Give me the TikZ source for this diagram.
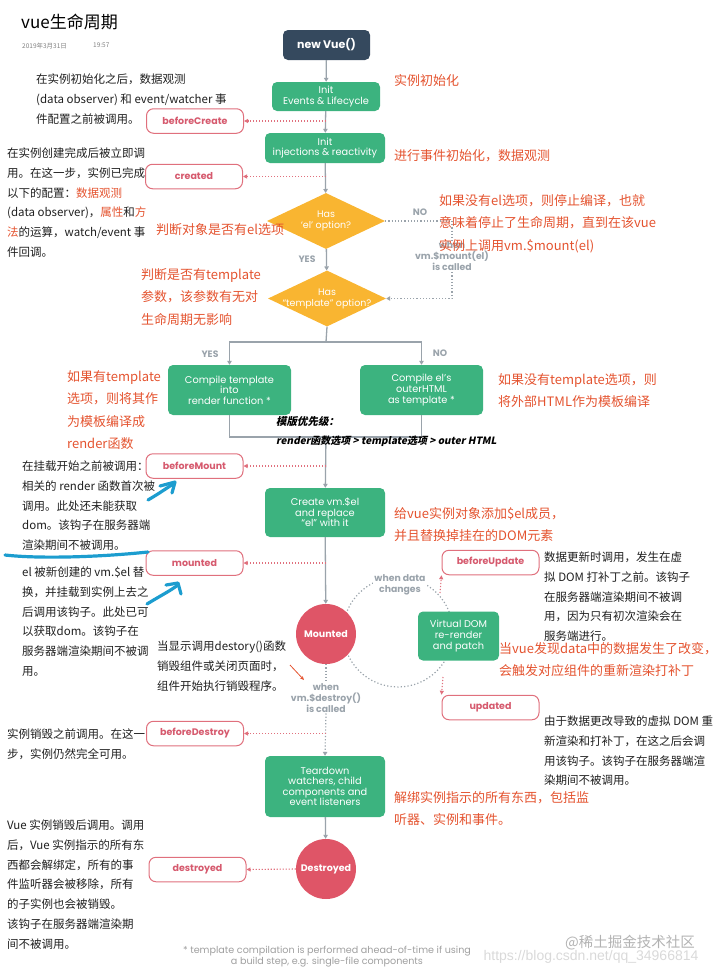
\documentclass[tikz,border=0pt]{standalone}
\usepackage{fontspec}
\setmainfont{Noto Sans CJK SC}
\newfontfamily\pop{Poppins}
\newfontfamily\cjkbi{Noto Sans CJK SC}[FakeSlant=0.2]
\newfontfamily\urlf{Liberation Sans}
\usetikzlibrary{shapes.geometric,arrows.meta}
\definecolor{vgreen}{HTML}{3CB37F}
\definecolor{vnavy}{HTML}{35495E}
\definecolor{vorange}{HTML}{F9B531}
\definecolor{vred}{HTML}{DF5567}
\definecolor{hookred}{HTML}{E0707D}
\definecolor{hooktext}{HTML}{D65A6E}
\definecolor{vgray}{HTML}{9AA3AB}
\definecolor{annred}{HTML}{E4532F}
\definecolor{mblue}{HTML}{1C9DCF}
\begin{document}
\begin{tikzpicture}[x=1pt,y=-1pt,
  box/.style={rectangle, rounded corners=5pt, fill=vgreen, text=white, font=\pop\fontsize{9.8}{10.6}\selectfont, align=center, inner sep=0pt},
  hook/.style={rectangle, rounded corners=7pt, draw=hookred, line width=1pt, fill=white, text=hooktext, font=\pop\bfseries\fontsize{9.5}{10}\selectfont, minimum width=97pt, minimum height=24.5pt, inner sep=0pt},
  diam/.style={diamond, fill=vorange, inner sep=0pt, minimum width=118pt, minimum height=56pt},
  difont/.style={text=white, font=\pop\fontsize{9.5}{11}\selectfont, align=center, inner sep=0pt},
  circ/.style={circle, fill=vred, text=white, font=\pop\bfseries\fontsize{9.5}{10}\selectfont, minimum size=60pt, inner sep=0pt},
  flow/.style={draw=vgray, line width=1.3pt, -{Triangle[length=4pt,width=4.5pt]}},
  flowline/.style={draw=vgray, line width=1.3pt},
  graydot/.style={draw=vgray, line width=1.2pt, dash pattern=on 1.2pt off 2pt},
  hookarrow/.style={draw=hookred, line width=1.1pt, dash pattern=on 1.2pt off 1.8pt, -{Triangle[length=4pt,width=4pt]}},
  grayl/.style={text=vgray, font=\pop\bfseries\fontsize{9.3}{10.8}\selectfont, align=center, inner sep=1pt},
  ann/.style={anchor=north west, align=left, inner sep=0pt, font=\fontsize{11.5}{19.8}\selectfont, text=black!88},
  rann/.style={anchor=north west, align=left, inner sep=0pt, font=\fontsize{13}{22.6}\selectfont, text=annred},
  bluemark/.style={draw=mblue, line width=3.2pt, line cap=round, line join=round}
]
\useasboundingbox (0,0) rectangle (721,975);

% ---------- dashed update circle (behind) ----------
\node[draw=vgray, line width=1.2pt, dash pattern=on 1.2pt off 2.2pt, circle, minimum size=110pt, inner sep=0pt] (cyc) at (398,632) {};

% ---------- main nodes ----------
\node[box, fill=vnavy, font=\pop\bfseries\fontsize{11}{12}\selectfont, minimum width=87pt, minimum height=30pt] (newvue) at (326.5,45) {new Vue()};
\node[box, minimum width=108pt, minimum height=29pt] (init1) at (326,96.5) {Init\\Events \& Lifecycle};
\node[box, minimum width=120pt, minimum height=30pt] (init2) at (325,148) {Init\\injections \& reactivity};
\node[diam] (d1) at (326,221) {};
\node[difont] (d1t) at (d1.center) {Has\\‘el’ option?};
\node[diam] (d2) at (327,298.5) {};
\node[difont] (d2t) at (d2.center) {Has\\“template” option?};
\node[box, minimum width=123pt, minimum height=50pt] (ct) at (229.5,390) {Compile template\\into\\render function *};
\node[box, minimum width=123pt, minimum height=50pt] (co) at (421.5,390) {Compile el’s\\outerHTML\\as template *};
\node[box, minimum width=120pt, minimum height=49pt] (create) at (325,512.5) {Create vm.\$el\\and replace\\“el” with it};
\node[circ] (mnt) at (326,634) {Mounted};
\node[box, minimum width=81pt, minimum height=49pt] (vdom) at (458.5,636) {Virtual DOM\\re-render\\and patch};
\node[box, minimum width=120pt, minimum height=61pt] (tear) at (325,786.5) {Teardown\\watchers, child\\components and\\event listeners};
\node[circ] (dst) at (326,869) {Destroyed};

% ---------- hooks ----------
\node[hook] (hbc) at (195,121) {beforeCreate};
\node[hook] (hcr) at (194,176.5) {created};
\node[hook] (hbm) at (194.5,466) {beforeMount};
\node[hook] (hmt) at (194.5,563) {mounted};
\node[hook] (hbu) at (490.5,562.5) {beforeUpdate};
\node[hook] (hup) at (490.5,707.5) {updated};
\node[hook] (hbd) at (195,733.5) {beforeDestroy};
\node[hook] (hds) at (197.5,869.5) {destroyed};

% ---------- gray labels ----------
\node[grayl] (lno1) at (420,212) {NO};
\node[grayl] (lyes1) at (307,259) {YES};
\node[grayl] (lyes2) at (210,354) {YES};
\node[grayl] (lno2) at (440,353) {NO};

% ---------- coordinates ----------
\coordinate (ncorner) at (452,221);
\coordinate (j1) at (326,342);
\coordinate (j2) at (326,437);
\coordinate (c1) at (326,121);
\coordinate (c2) at (326,176.5);
\coordinate (c3) at (326,466);
\coordinate (c4) at (326,563);
\coordinate (c7) at (326,733.5);
\coordinate (u1) at (440,593);
\coordinate (u2) at (443,677);

% ---------- flow connectors ----------
\draw[flow] (newvue) -- (init1);
\draw[flow] (init1) -- (init2);
\draw[flow] (init2) -- (d1);
\draw[flow] (d1) -- (d2);
\draw[flowline] (d2.south) -- (j1);
\draw[flow] (j1) -| (ct.north);
\draw[flow] (j1) -| (co.north);
\draw[flowline] (ct.south) |- (j2);
\draw[flowline] (co.south) |- (j2);
\draw[flow] (j2) -- (create);
\draw[flow] (create) -- (mnt);
\draw[flow] (tear) -- (dst);

% NO path
\draw[graydot] (d1.east) -- (ncorner);
\draw[graydot, -{Triangle[length=4pt,width=4.5pt]}] (ncorner) |- (d2.east);
\node[grayl, fill=white] (lmount) at (452,256) {when\\vm.\$mount(el)\\is called};

% destroy path
\node[grayl, fill=white] (ldestroy) at (326,698) {when\\vm.\$destroy()\\is called};
\draw[graydot] (mnt.south) -- (ldestroy.north);
\draw[graydot, -{Triangle[length=4pt,width=4.5pt]}] (ldestroy.south) -- (tear.north);

\node[grayl, fill=white] (ldata) at (400,585) {when data\\changes};

% hook arrows
\draw[hookarrow] (c1) -- (hbc.east);
\draw[hookarrow] (c2) -- (hcr.east);
\draw[hookarrow] (c3) -- (hbm.east);
\draw[hookarrow] (c4) -- (hmt.east);
\draw[hookarrow] (c7) -- (hbd.east);
\draw[hookarrow] (dst.west) -- (hds.east);
\draw[hookarrow] (u1) -- (hbu.south west);
\draw[hookarrow] (u2) -- (hup.north west);

% ---------- title ----------
\node[anchor=west, inner sep=0pt, font=\fontsize{17}{20}\selectfont] (title) at (21,22) {vue生命周期};
\node[anchor=west, inner sep=0pt, font=\fontsize{6.5}{8}\selectfont, text=gray] (date) at (22,46.5) {2019年3月31日};
\node[anchor=west, inner sep=0pt, font=\fontsize{6.5}{8}\selectfont, text=gray] (time) at (93,45) {19:57};

% ---------- black annotations ----------
\node[ann] (abc) at (36,73.6) {在实例初始化之后，数据观测\\(data observer) 和 event/watcher 事\\件配置之前被调用。};
\node[ann] (acr) at (7,147.6) {在实例创建完成后被立即调\\用。在这一步，实例已完成\\以下的配置：\textcolor{annred}{数据观测}\\(data observer)，\textcolor{annred}{属性}和\textcolor{annred}{方}\\\textcolor{annred}{法}的运算，watch/event 事\\件回调。};
\node[ann] (abm) at (22,460.6) {在挂载开始之前被调用：\\相关的 render 函数首次被\\调用。此处还未能获取\\dom。该钩子在服务器端\\渲染期间不被调用。};
\node[ann] (amt) at (22,566.6) {el 被新创建的 vm.\$el 替\\换，并挂载到实例上去之\\后调用该钩子。此处已可\\以获取dom。该钩子在\\服务器端渲染期间不被调\\用。};
\node[ann] (ads) at (157,640.6) {当显示调用destory()函数\\销毁组件或关闭页面时，\\组件开始执行销毁程序。};
\node[ann] (abu) at (544,551.6) {数据更新时调用，发生在虚\\拟 DOM 打补丁之前。该钩子\\在服务器端渲染期间不被调\\用，因为只有初次渲染会在\\服务端进行。};
\node[ann] (aup) at (544,715.6) {由于数据更改导致的虚拟 DOM 重\\新渲染和打补丁，在这之后会调\\用该钩子。该钩子在服务器端渲\\染期间不被调用。};
\node[ann] (abd) at (7,728.6) {实例销毁之前调用。在这一\\步，实例仍然完全可用。};
\node[ann] (add) at (7,819.6) {Vue 实例销毁后调用。调用\\后，Vue 实例指示的所有东\\西都会解绑定，所有的事\\件监听器会被移除，所有\\的子实例也会被销毁。\\该钩子在服务器端渲染期\\间不被调用。};

% ---------- red annotations ----------
\node[rann] (r1) at (394,73.9) {实例初始化};
\node[rann] (r2) at (394,148.9) {进行事件初始化，数据观测};
\node[rann] (r3) at (439,193.9) {如果没有el选项，则停止编译，也就\\意味着停止了生命周期，直到在该vue\\实例上调用vm.\$mount(el)};
\node[rann] (r4) at (156,222.9) {判断对象是否有el选项};
\node[rann] (r5) at (141,267.9) {判断是否有template\\参数，该参数有无对\\生命周期无影响};
\node[rann] (r6) at (67,369.9) {如果有template\\选项，则将其作\\为模板编译成\\render函数};
\node[rann] (r7) at (498,372.9) {如果没有template选项，则\\将外部HTML作为模板编译};
\node[rann] (r8) at (394,506.9) {给vue实例对象添加\$el成员，\\并且替换掉挂在的DOM元素};
\node[rann] (r9) at (499,641.9) {当vue发现data中的数据发生了改变，\\会触发对应组件的重新渲染打补丁};
\node[rann] (r10) at (394,790.9) {解绑实例指示的所有东西，包括监\\听器、实例和事件。};

% priority text
\node[anchor=west, inner sep=0pt, font=\cjkbi\bfseries\fontsize{10.5}{12}\selectfont] (pri1) at (276,422) {模版优先级：};
\node[anchor=west, inner sep=0pt, font=\cjkbi\bfseries\fontsize{10}{12}\selectfont] (pri2) at (276,441) {render函数选项 > template选项 > outer HTML};

% small red arrow
\coordinate (ra1) at (290,665);
\coordinate (ra2) at (304,680);
\draw[annred, line width=0.8pt, -{Stealth[length=4pt,width=3.5pt]}] (ra1) -- (ra2);

% ---------- blue marker strokes ----------
\draw[bluemark] (148,500) .. controls (158,494) .. (173,484);
\draw[bluemark] (160,486) -- (175,482) -- (172,493);
\draw[bluemark] (5,555) .. controls (40,559) and (100,557) .. (148,552);
\draw[bluemark] (147,604) .. controls (160,596) and (170,591) .. (178,585);
\draw[bluemark] (166,585) -- (178,583) -- (181,594);

% ---------- footnote and watermark ----------
\node[align=center, inner sep=0pt, text=gray!75, font=\pop\fontsize{9.6}{11.5}\selectfont] (foot) at (327,956.5) {* template compilation is performed ahead-of-time if using\\a build step, e.g. single-file components};
\node[inner sep=0pt, text=gray!60, font=\fontsize{14.5}{16}\selectfont] (wm1) at (630,943) {@稀土掘金技术社区};
\node[inner sep=0pt, text=gray!30, font=\urlf\fontsize{14}{16}\selectfont] (wm2) at (591,957) {https://blog.csdn.net/qq\_34966814};
\end{tikzpicture}
\end{document}
